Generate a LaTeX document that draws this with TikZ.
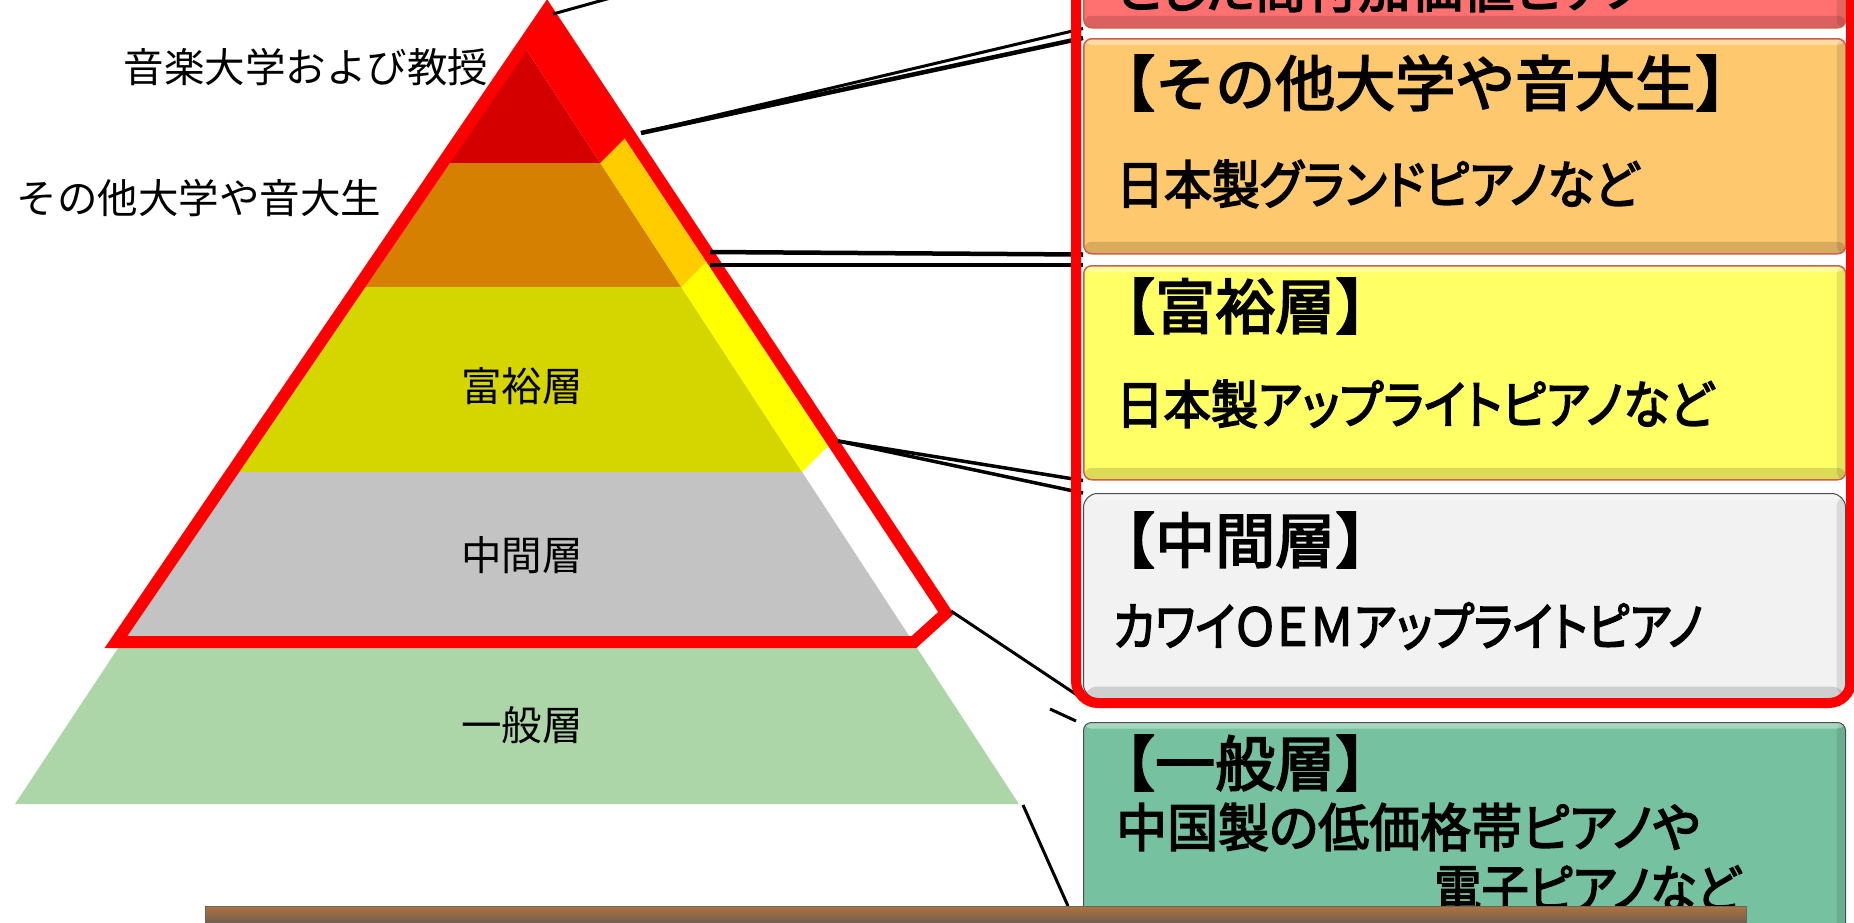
\documentclass[tikz,border=0pt]{standalone}
\usepackage{fontspec}
\newfontfamily\jpfont{Noto Sans CJK JP}
\newfontfamily\jpboxfont[FakeBold=3]{Noto Sans CJK JP}
\newfontfamily\jpboxpfont[FakeBold=3,RawFeature=+palt]{Noto Sans CJK JP}
\usetikzlibrary{positioning}

\definecolor{tiertop}{RGB}{212,0,0}
\definecolor{tierupper}{RGB}{213,128,0}
\definecolor{tierrich}{RGB}{213,213,0}
\definecolor{tiermid}{RGB}{195,195,195}
\definecolor{tiergen}{RGB}{172,213,168}
\definecolor{sidegold}{RGB}{255,204,0}
\definecolor{sideyellow}{RGB}{255,255,0}
\definecolor{boxpink}{RGB}{255,112,112}
\definecolor{boxorange}{RGB}{253,200,110}
\definecolor{boxyellow}{RGB}{255,255,102}
\definecolor{boxgray}{RGB}{242,242,242}
\definecolor{boxgreen}{RGB}{118,194,160}
\definecolor{boxedge}{RGB}{205,95,75}
\definecolor{barbrown}{RGB}{112,94,82}
\definecolor{bartop}{RGB}{175,115,60}

\newcommand\tierfont{\jpfont\fontsize{40.5}{42}\selectfont}
\newcommand\headfont{\jpboxfont\fontsize{60}{62}\selectfont}
\newcommand\bodyfont{\jpboxpfont\fontsize{52}{54}\selectfont}
% narrow a line of box text to the width it has in the slide
\newcommand\narrow[2]{\scalebox{#1}[1]{#2}}

\begin{document}
\begin{tikzpicture}[x=1pt,y=-1pt,
    tiertext/.style={inner sep=0pt, font=\tierfont},
    headtext/.style={inner sep=0pt, anchor=west, font=\headfont},
    bodytext/.style={inner sep=0pt, anchor=west, font=\bodyfont},
    bevel/.style={path picture={
        \fill[black,opacity=0.14] ([yshift=12pt]path picture bounding box.south west) rectangle (path picture bounding box.south east);
        \fill[black,opacity=0.10] ([xshift=-9pt]path picture bounding box.north east) rectangle (path picture bounding box.south east);
        \fill[white,opacity=0.35] (path picture bounding box.north west) rectangle ([yshift=-6pt]path picture bounding box.north east);
      }},
    tierbox/.style={anchor=north west, inner sep=0pt, rounded corners=8pt,
      minimum width=762pt, line width=1.5pt, draw=boxedge, bevel},
    redline/.style={draw=red, line width=12pt, line join=miter},
    callout/.style={draw=black, line width=3.5pt}]
  \useasboundingbox (0,0) rectangle (1854,922);
  \clip (0,0) rectangle (1854,922);
  \fill[white] (0,0) rectangle (1854,922);

  % pyramid, front face
  \fill[tiertop] (520,40) -- (600.3,163) -- (438.7,163) -- cycle;
  \fill[tierupper] (438.7,163) -- (600.3,163) -- (681.3,287) -- (356.7,287) -- cycle;
  \fill[tierrich] (356.7,287) -- (681.3,287) -- (802.1,472) -- (234.4,472) -- cycle;
  \fill[tiermid] (234.4,472) -- (802.1,472) -- (914.4,644) -- (120.8,644) -- cycle;
  \fill[tiergen] (120.8,644) -- (914.4,644) -- (1018.9,804) -- (15,804) -- cycle;
  % pyramid, side face
  \fill[red] (520,40) -- (546,14) -- (626.3,137) -- (600.3,163) -- cycle;
  \fill[sidegold] (600.3,163) -- (626.3,137) -- (707.3,261) -- (681.3,287) -- cycle;
  \fill[sideyellow] (681.3,287) -- (707.3,261) -- (828.1,446) -- (802.1,472) -- cycle;
  \draw[redline] (547,10) -- (946,613) -- (914,642) -- (116,642) -- cycle;

  \node[tiertext] (toplabel) at (306,67) {音楽大学および教授};
  \node[tiertext] (upperlabel) at (199,198) {その他大学や音大生};
  \node[tiertext] (richlabel) at (522,386) {富裕層};
  \node[tiertext] (midlabel) at (522,555) {中間層};
  \node[tiertext] (genlabel) at (522,725) {一般層};

  % boxes
  \node[tierbox, fill=boxpink, minimum height=90pt] (top) at (1083,-63) {};
  \node[tierbox, fill=boxorange, minimum height=215pt] (upper) at (1083,38) {};
  \node[tierbox, fill=boxyellow, minimum height=214pt] (rich) at (1083,265) {};
  \node[tierbox, fill=boxgray, draw=black!70, line width=1pt, rounded corners=14pt,
    minimum height=205pt] (mid) at (1083,493) {};
  \node[tierbox, fill=boxgreen, draw=black!70, line width=1pt, minimum height=240pt] (gen) at (1083,722) {};

  % connectors
  \coordinate (apexpt) at (553,14);
  \coordinate (apexend) at (650,-13);
  \coordinate (topside) at (641,133);
  \coordinate (goldside) at (710,252);
  \coordinate (goldlow) at (710,265);
  \coordinate (yellowside) at (838,441);
  \coordinate (midcorner) at (951,611);
  \coordinate (stubA) at (1050,709);
  \coordinate (stubB) at (1076,721);
  \coordinate (gencorner) at (1023,805);
  \coordinate (barhit) at (1068,906);
  \draw[callout, line width=3pt] (apexpt) -- (apexend);
  \draw[callout, line width=3pt] (topside) -- (top.south west);
  \draw[callout, line width=4.5pt] (topside) -- (upper.north west);
  \draw[callout, line width=4.5pt] (goldside) -- (upper.south west);
  \draw[callout, line width=4.5pt] (goldlow) -- (rich.north west);
  \draw[callout] (yellowside) -- (rich.south west);
  \draw[callout] (yellowside) -- (mid.north west);
  \draw[callout, line width=3pt] (midcorner) -- (mid.south west);
  \draw[callout, line width=3pt] (stubA) -- (stubB);
  \draw[callout, line width=3pt] (gencorner) -- (barhit);

  \draw[draw=red, line width=10pt, rounded corners=22pt] (1076,-40) rectangle (1851,703);

  % box texts
  \node[bodytext] (topbody) at (1115,-12) {とした高付加価値ピアノ};
  \node[headtext] (upperhead) at (1095,83) {【その他大学や音大生】};
  \node[bodytext] (upperbody) at (1116,184) {\narrow{0.92}{日本製グランドピアノなど}};
  \node[headtext] (richhead) at (1095,306) {【富裕層】};
  \node[bodytext] (richbody) at (1116,404) {\narrow{0.91}{日本製アップライトピアノなど}};
  \node[headtext] (midhead) at (1095,540) {【中間層】};
  \node[bodytext] (midbody) at (1113,626) {\narrow{0.87}{カワイＯＥＭアップライトピアノ}};
  \node[headtext] (genhead) at (1095,763) {【一般層】};
  \node[bodytext] (genbody) at (1116,827) {\narrow{0.98}{中国製の低価格帯ピアノや}};
  \node[bodytext] (genbody2) at (1434,889) {\narrow{0.91}{電子ピアノなど}};

  % bottom bar
  \draw[draw=black!60, line width=1pt, top color=bartop, bottom color=barbrown,
    middle color=barbrown] (205,906) rectangle (1746,940);
\end{tikzpicture}
\end{document}
